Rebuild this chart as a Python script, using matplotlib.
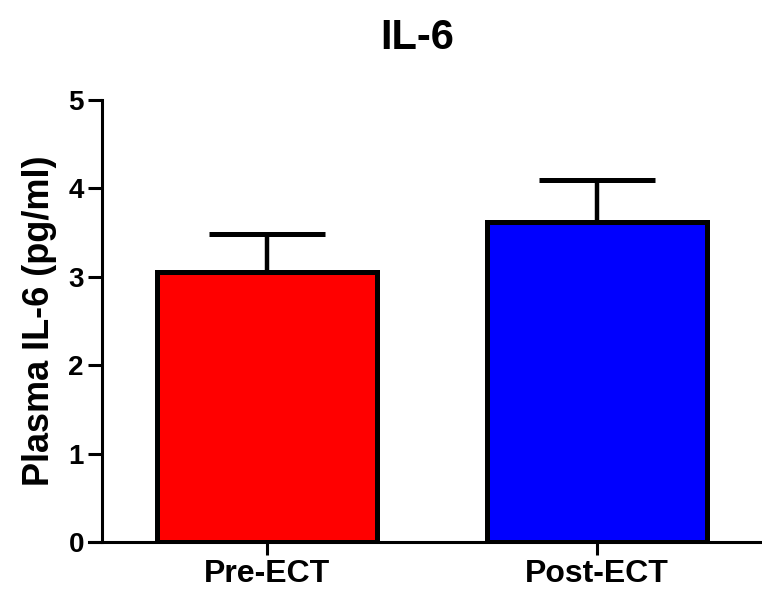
import matplotlib
matplotlib.use('Agg')
import matplotlib.pyplot as plt

# Values
groups = ['Pre-ECT', 'Post-ECT']
means = [3.05, 3.62]
sem = [0.43, 0.48]
colors = ['#ff0000', '#0000ff']

plt.rcParams['font.family'] = ['Liberation Sans', 'DejaVu Sans']
plt.rcParams['font.weight'] = 'bold'

fig = plt.figure(figsize=(7.62, 5.92), dpi=100)
ax = fig.add_axes([102 / 762, 50 / 592, 660 / 762, 442 / 592])

x = list(range(len(groups)))
ax.bar(x, means, width=0.667, color=colors, edgecolor='black', linewidth=3.6, zorder=2)
ax.errorbar(x, means, yerr=[[0] * len(sem), sem], fmt='none', ecolor='black',
            elinewidth=3.2, capsize=42, capthick=3.6, zorder=1)

ax.set_xlim(-0.5, 1.5)
ax.set_ylim(0, 5)
ax.set_yticks([0, 1, 2, 3, 4, 5])
ax.set_xticks(x)
ax.set_xticklabels(groups, fontsize=23, fontweight='bold')
ax.tick_params(axis='y', labelsize=20, width=2.2, length=10, pad=3)
ax.tick_params(axis='x', width=2.2, length=9, pad=3)
for lab in ax.get_yticklabels():
    lab.set_fontweight('bold')

ax.spines['top'].set_visible(False)
ax.spines['right'].set_visible(False)
ax.spines['left'].set_linewidth(2.2)
ax.spines['bottom'].set_linewidth(2.2)
ax.spines['bottom'].set_bounds(-0.54, 1.5)

ax.set_ylabel('Plasma IL-6 (pg/ml)', fontsize=26, fontweight='bold', labelpad=8)
fig.text(0.547, 0.935, 'IL-6', ha='center', va='center', fontsize=30, fontweight='bold')

fig.savefig('out.png', dpi=100)
